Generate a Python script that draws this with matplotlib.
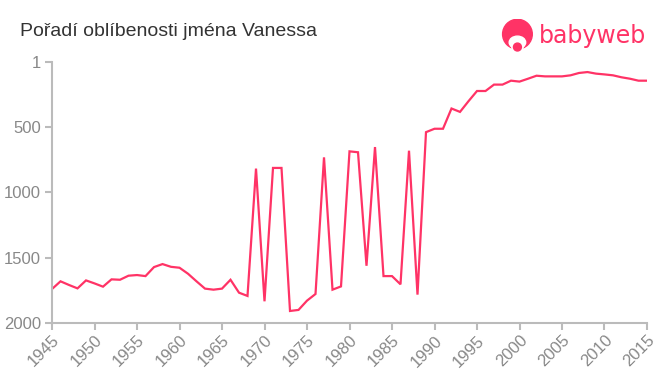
import matplotlib
matplotlib.use("Agg")
import matplotlib.pyplot as plt
from matplotlib.patches import Circle, Ellipse

years = list(range(1945, 2016))
ranks = [1740, 1681, 1709, 1735, 1674, 1697, 1722, 1666, 1669, 1638,
         1633, 1641, 1572, 1549, 1570, 1577, 1623, 1681, 1737, 1745,
         1737, 1669, 1768, 1793, 818, 1834, 813, 813, 1908, 1900,
         1829, 1778, 732, 1745, 1720, 686, 693, 1562, 653, 1641,
         1641, 1704, 681, 1783, 539, 513, 513, 358, 384, 302,
         224, 224, 175, 175, 145, 152, 130, 107, 112, 112,
         112, 104, 86, 79, 91, 97, 104, 119, 130, 145, 145]
x_ticks = list(range(1945, 2016, 5))
y_ticks = [1, 500, 1000, 1500, 2000]
title = "Pořadí oblíbenosti jména Vanessa"

plt.rcParams['font.family'] = ['Liberation Sans', 'DejaVu Sans']

line_color = '#ff3366'
axis_color = '#bbbbbb'
label_color = '#888888'

fig = plt.figure(figsize=(6.6, 3.75), dpi=100)
ax = fig.add_axes([0.0788, 0.1387, 0.9015, 0.6963])

ax.plot(years, ranks, color=line_color, lw=1.6, solid_joinstyle='miter')
ax.set_xlim(1945, 2015)
ax.set_ylim(2000, 1)
ax.set_xticks(x_ticks)
ax.set_xticklabels([str(t) for t in x_ticks], rotation=45, ha='right',
                   rotation_mode='anchor')
ax.set_yticks(y_ticks)

for side in ('top', 'right'):
    ax.spines[side].set_visible(False)
for side in ('left', 'bottom'):
    ax.spines[side].set_color(axis_color)
    ax.spines[side].set_linewidth(1.5)
ax.tick_params(axis='both', colors=axis_color, width=1.5, length=5,
               labelcolor=label_color, labelsize=12)
ax.tick_params(axis='x', pad=2)
ax.tick_params(axis='y', pad=3)

fig.text(0.030, 0.917, title, fontsize=14, color='#333333', va='center')

# babyweb logo
fig.text(0.817, 0.905, "babyweb", fontsize=17, family='DejaVu Sans',
         color=line_color, va='center', ha='left')
logo = fig.add_axes([0.759, 0.857, 0.05, 0.095])
logo.set_xlim(0, 1)
logo.set_ylim(0, 1)
logo.set_aspect('equal')
logo.axis('off')
logo.add_patch(Circle((0.5, 0.55), 0.45, color=line_color))
logo.add_patch(Ellipse((0.5, 0.3), 0.5, 0.38, color='white'))
logo.add_patch(Circle((0.5, 0.16), 0.17, color='white'))
logo.add_patch(Circle((0.5, 0.16), 0.12, color=line_color))

fig.savefig("out.png", dpi=100)
